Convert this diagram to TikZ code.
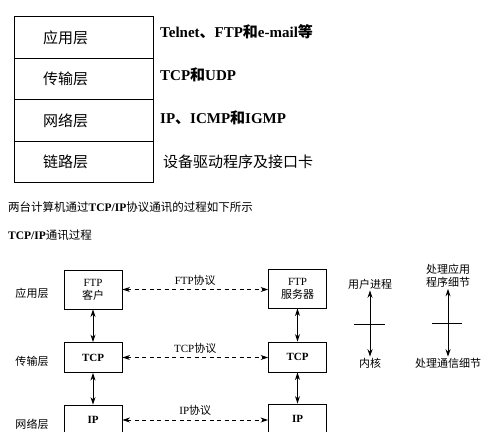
\documentclass[tikz,border=0pt]{standalone}
\usepackage{fontspec}
\setmainfont{Liberation Serif}
\newfontfamily\cjk{Noto Sans CJK SC}
\usetikzlibrary{arrows.meta}
\newcommand{\zh}[1]{{\cjk #1}}
\begin{document}
\begin{tikzpicture}[
        x=1pt, y=-1pt,
        row/.style={draw, line width=1pt, minimum width=139pt, minimum height=41.5pt,
            text width=81pt, inner xsep=29pt, align=left, font=\fontsize{15}{18}\selectfont},
        note/.style={anchor=west, inner sep=0pt, font=\fontsize{15}{18}\selectfont\bfseries},
        box/.style={draw, line width=0.9pt, minimum width=58pt, minimum height=30pt,
            align=center, inner sep=1pt, font=\fontsize{11}{13}\selectfont},
        small/.style={inner sep=1pt, font=\fontsize{11}{13}\selectfont},
        link/.style={{Stealth[length=7.5pt,width=5pt]}-{Stealth[length=7.5pt,width=5pt]}, line width=1pt},
        proto/.style={link, dash pattern=on 4pt off 3.5pt}
    ]
      \useasboundingbox (0,0) rectangle (500,431);
      \clip (0,0) rectangle (500,431);

      % Четыре уровня
      \node[row] (app)  at (83.5,37.5)  {\zh{应用层}};
      \node[row] (tr)   at (83.5,79)    {\zh{传输层}};
      \node[row] (net)  at (83.5,120.5) {\zh{网络层}};
      \node[row] (link) at (83.5,162)   {\zh{链路层}};
      \node[note] (appnote)  at (160,32)  {Telnet\zh{、}FTP\zh{和}e-mail\zh{等}};
      \node[note] (trnote)   at (160,75)  {TCP\zh{和}UDP};
      \node[note] (netnote)  at (160,118) {IP\zh{、}ICMP\zh{和}IGMP};
      \node[note, font=\fontsize{15}{18}\selectfont] (linknote) at (163,162) {\zh{设备驱动程序及接口卡}};

      % Подписи
      \node[anchor=west, inner sep=0pt, font=\fontsize{11.5}{14}\selectfont] (line1) at (8,207)
        {\zh{两台计算机通过}\textbf{TCP/IP}\zh{协议通讯的过程如下所示}};
      \node[anchor=west, inner sep=0pt, font=\fontsize{11.5}{14}\selectfont] (line2) at (8,235)
        {\textbf{TCP/IP}\zh{通讯过程}};

      % Левый хост
      \node[box, minimum height=39pt] (ftpc) at (93,289.5) {FTP\\\zh{客户}};
      \node[box] (tcpl) at (93,357.5) {\textbf{TCP}};
      \node[box] (ipl)  at (93,420)   {\textbf{IP}};
      % Правый хост
      \node[box, minimum height=39pt] (ftps) at (297.5,288.5) {FTP\\\zh{服务器}};
      \node[box] (tcpr) at (297.5,357) {\textbf{TCP}};
      \node[box] (ipr)  at (297.5,419) {\textbf{IP}};

      \draw[link] (ftpc) -- (tcpl);
      \draw[link] (tcpl) -- (ipl);
      \draw[link] (ftps) -- (tcpr);
      \draw[link] (tcpr) -- (ipr);

      % Протоколы между хостами
      \draw[proto] (ftpc.east) -- node[small, above=3pt] {FTP\zh{协议}} (ftps.west |- ftpc.east);
      \draw[proto] (tcpl.east) -- node[small, above=3pt] {TCP\zh{协议}} (tcpr.west |- tcpl.east);
      \draw[proto] (ipl.east)  -- node[small, above=3pt] {IP\zh{协议}}  (ipr.west |- ipl.east);

      % Уровни слева
      \node[small] (lapp) at (32,293) {\zh{应用层}};
      \node[small] (ltr)  at (32,361) {\zh{传输层}};
      \node[small] (lnet) at (32,424) {\zh{网络层}};

      % Легенда
      \node[small] (user)   at (370,284) {\zh{用户进程}};
      \node[small] (kernel) at (370,363) {\zh{内核}};
      \draw[link] (user) -- (kernel);
      \draw[line width=0.9pt] (354,324) -- (385,324);
      \node[small, align=center] (appdet) at (448,276) {\zh{处理应用}\\\zh{程序细节}};
      \node[small] (comdet) at (448,363) {\zh{处理通信细节}};
      \draw[link] (appdet) -- (comdet);
      \draw[line width=0.9pt] (432,323) -- (462,323);
    \end{tikzpicture}
\end{document}
